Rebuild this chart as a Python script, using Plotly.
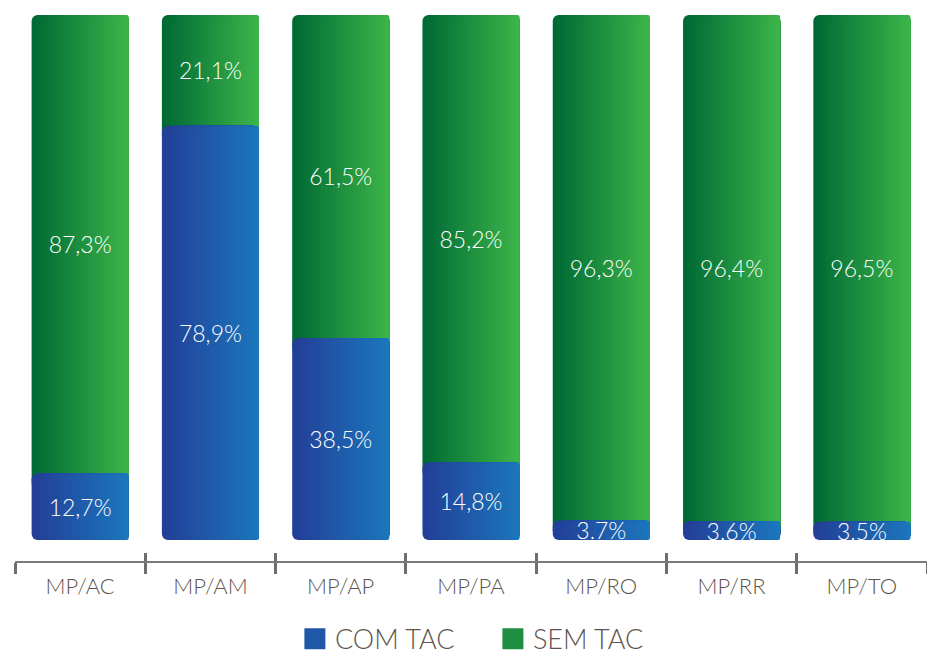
import plotly.graph_objects as go

# ---- data ----
categories = ["MP/AC", "MP/AM", "MP/AP", "MP/PA", "MP/RO", "MP/RR", "MP/TO"]
com_tac = [12.7, 78.9, 38.5, 14.8, 3.7, 3.6, 3.5]
sem_tac = [87.3, 21.1, 61.5, 85.2, 96.3, 96.4, 96.5]
com_labels = ["12,7%", "78,9%", "38,5%", "14,8%", "3.7%", "3.6%", "3.5%"]
sem_labels = ["87,3%", "21,1%", "61,5%", "85,2%", "96,3%", "96,4%", "96,5%"]
series_names = ["COM TAC", "SEM TAC"]

# ---- style ----
FONT = "Lato"
LABEL_COLOR = "#5e534c"
BLUE_L, BLUE_R = (35, 63, 152), (27, 118, 188)
GREEN_L, GREEN_R = (0, 106, 52), (60, 180, 74)
W = 0.745          # bar width (category units)
N = 24             # gradient strips
RADIUS = 6
TUCK = 3           # green starts this far under the blue top


def lerp(c1, c2, t):
    return "rgb(%d,%d,%d)" % tuple(round(a + (b - a) * t) for a, b in zip(c1, c2))


def strip_geom(k):
    off = -W / 2 + k * W / N
    return off, W - k * W / N


fig = go.Figure()
common = dict(hoverinfo="skip", showlegend=False, marker_line_width=0,
              marker_cornerradius=RADIUS)

# green (SEM TAC) strips
green_base = [c - TUCK for c in com_tac]
green_len = [s + TUCK for s in sem_tac]
for k in range(N):
    off, wid = strip_geom(k)
    fig.add_trace(go.Bar(
        x=categories, y=green_len, base=green_base,
        offset=off, width=wid,
        marker_color=lerp(GREEN_L, GREEN_R, k / (N - 1)), **common))

# blue (COM TAC) strips
for k in range(N):
    off, wid = strip_geom(k)
    fig.add_trace(go.Bar(
        x=categories, y=com_tac, base=[0] * len(com_tac),
        offset=off, width=wid,
        marker_color=lerp(BLUE_L, BLUE_R, k / (N - 1)), **common))

# text labels (transparent bars)
txt = dict(hoverinfo="skip", showlegend=False, width=W,
           marker_color="rgba(0,0,0,0)", marker_line_width=0,
           textposition="inside", insidetextanchor="middle",
           textfont=dict(family=FONT, size=23, color="white", weight=300))
fig.add_trace(go.Bar(x=categories, y=com_tac, base=[0] * len(com_tac),
                     text=com_labels, **txt))
fig.add_trace(go.Bar(x=categories, y=sem_tac, base=com_tac, text=sem_labels, **txt))

# legend entries
fig.add_trace(go.Scatter(x=[None], y=[None], mode="markers", name=series_names[0],
                         marker=dict(symbol="square", size=16, color="#1f58a8",
                                     line=dict(width=5, color="#1f58a8"))))
fig.add_trace(go.Scatter(x=[None], y=[None], mode="markers", name=series_names[1],
                         marker=dict(symbol="square", size=16, color="#1e8f42",
                                     line=dict(width=5, color="#1e8f42"))))
# dummy trace for the upper tick-mark axis
fig.add_trace(go.Scatter(x=categories, y=[None] * len(categories), xaxis="x2",
                         mode="markers", showlegend=False, hoverinfo="skip"))

fig.update_layout(
    width=927, height=654,
    margin=dict(l=15, r=0, t=15, b=93, autoexpand=False),
    paper_bgcolor="white", plot_bgcolor="white",
    barmode="overlay",
    xaxis=dict(type="category", categoryarray=categories, range=[-0.5, 6.5],
               showline=True, linecolor="#7b7b7b", linewidth=2,
               ticks="outside", tickson="boundaries", ticklen=11, tickwidth=3,
               tickcolor="#6d6e71", showgrid=False, zeroline=False,
               ticklabelstandoff=5,
               tickfont=dict(family=FONT, size=22, color=LABEL_COLOR, weight=300)),
    xaxis2=dict(type="category", categoryarray=categories, range=[-0.5, 6.5],
                overlaying="x", anchor="y", side="bottom",
                showline=False, ticks="inside", tickson="boundaries", ticklen=8,
                tickwidth=3, tickcolor="#6d6e71", showticklabels=False,
                showgrid=False, zeroline=False),
    yaxis=dict(range=[-4, 100], visible=False, showgrid=False, zeroline=False),
    uniformtext=dict(minsize=23, mode="show"),
    legend=dict(orientation="h", x=0.524, xanchor="center", y=-0.143, yanchor="middle",
                font=dict(family=FONT, size=27, color=LABEL_COLOR, weight=300),
                itemwidth=30, entrywidth=153, entrywidthmode="pixels",
                traceorder="normal"),
    showlegend=True,
)

fig.write_html("out.html", config={"displayModeBar": False},
               post_script="document.body.style.margin='0';"
                           "document.body.style.overflow='hidden';")
